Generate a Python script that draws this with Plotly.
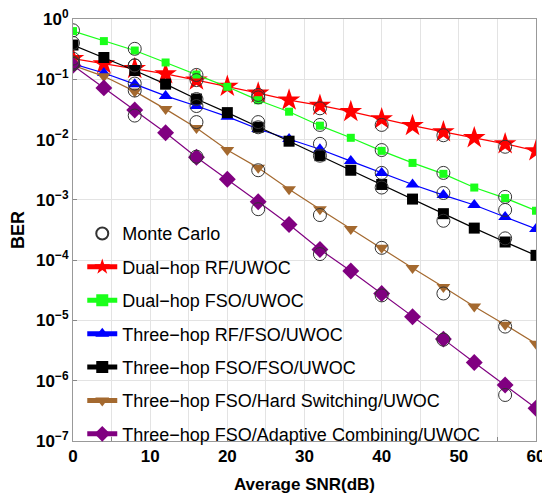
import plotly.graph_objects as go

# average SNR (dB) for analytic curves and Monte Carlo points
snr = [0, 4, 8, 12, 16, 20, 24, 28, 32, 36, 40, 44, 48, 52, 56, 60]
snr_mc = [0, 8, 16, 24, 32, 40, 48, 56]

ber_rf_uwoc = [0.22, 0.18, 0.15, 0.123, 0.097, 0.076, 0.059, 0.045, 0.037, 0.029,
               0.022, 0.017, 0.0134, 0.0107, 0.0085, 0.0065]
ber_fso_uwoc = [0.63, 0.43, 0.30, 0.19, 0.12, 0.075, 0.045, 0.029, 0.017, 0.0107,
                0.0065, 0.0041, 0.0027, 0.0016, 0.00107, 0.00066]
ber_rf_fso_uwoc = [0.18, 0.127, 0.083, 0.053, 0.036, 0.024, 0.015, 0.0102, 0.0069, 0.0044,
                   0.0028, 0.0018, 0.0012, 0.00082, 0.00052, 0.00033]
ber_fso_fso_uwoc = [0.37, 0.23, 0.14, 0.083, 0.047, 0.028, 0.016, 0.0094, 0.0054, 0.0031,
                    0.0018, 0.00103, 0.00059, 0.00034, 0.0002, 0.00012]
ber_hard = [0.17, 0.112, 0.063, 0.032, 0.0155, 0.0067, 0.0034, 0.0015, 0.0007, 0.00033,
            0.00016, 7.4e-5, 3.6e-5, 1.7e-5, 8.5e-6, 4.1e-6]
ber_adaptive = [0.17, 0.072, 0.031, 0.013, 0.0051, 0.0022, 0.00093, 0.00039, 0.00015, 6.6e-5,
                2.8e-5, 1.15e-5, 4.9e-6, 2.0e-6, 8.5e-7, 3.5e-7]

mc_rf_uwoc = [0.22, 0.17, 0.097, 0.055, 0.033, 0.0175, 0.0118, 0.0076]
mc_fso_uwoc = [0.65, 0.32, 0.118, 0.05, 0.0175, 0.0067, 0.0028, 0.00112]
mc_rf_fso_uwoc = [0.19, 0.085, 0.036, 0.0195, 0.0085, 0.0028, 0.0013, 0.00068]
mc_fso_fso_uwoc = [0.4, 0.17, 0.047, 0.016, 0.0054, 0.0016, 0.00045, 0.00023]
mc_hard = [0.18, 0.065, 0.0195, 0.0031, 0.00056, 0.00016, 2.8e-5, 7.9e-6]
mc_adaptive = [0.18, 0.025, 0.0052, 0.0007, 0.000126, 2.6e-5, 4.8e-6, 5.8e-7]

names = ["Dual\u2212hop RF/UWOC", "Dual\u2212hop FSO/UWOC", "Three\u2212hop RF/FSO/UWOC",
         "Three\u2212hop FSO/FSO/UWOC", "Three\u2212hop FSO/Hard Switching/UWOC",
         "Three\u2212hop FSO/Adaptive Combining/UWOC"]
curves = [ber_rf_uwoc, ber_fso_uwoc, ber_rf_fso_uwoc, ber_fso_fso_uwoc, ber_hard, ber_adaptive]
mc_curves = [mc_rf_uwoc, mc_fso_uwoc, mc_rf_fso_uwoc, mc_fso_fso_uwoc, mc_hard, mc_adaptive]

x_ticks = [0, 10, 20, 30, 40, 50, 60]
y_ticks = [1, 1e-1, 1e-2, 1e-3, 1e-4, 1e-5, 1e-6, 1e-7]
y_labels = ["10<sup>0</sup>", "10<sup>\u22121</sup>", "10<sup>\u22122</sup>", "10<sup>\u22123</sup>",
            "10<sup>\u22124</sup>", "10<sup>\u22125</sup>", "10<sup>\u22126</sup>", "10<sup>\u22127</sup>"]

colors = ["#ff0000", "#1aff1a", "#0000ff", "#000000", "#a4692f", "#800080"]
symbols = ["star", "square", "triangle-up", "square", "triangle-down", "diamond"]
sizes = [17, 8, 12, 11, 12, 13]

fig = go.Figure()

for i in range(len(names)):
    fig.add_trace(
        go.Scatter(
            x=snr,
            y=curves[i],
            name=names[i],
            mode="lines+markers",
            line=dict(color=colors[i], width=1.2),
            marker=dict(color=colors[i], symbol=symbols[i], size=sizes[i]),
            legendgroup="g%d" % i,
            legendrank=i + 2,
        )
    )

for i in range(len(mc_curves)):
    fig.add_trace(
        go.Scatter(
            x=snr_mc,
            y=mc_curves[i],
            name="Monte Carlo",
            mode="markers",
            marker=dict(symbol="circle-open", size=13, color="#333333", line=dict(width=1)),
            legendgroup="mc",
            showlegend=(i == 0),
            legendrank=1,
        )
    )

# page body adds 8px margin, so the figure is a bit smaller than the window
fig.update_layout(
    width=542,
    height=490,
    margin=dict(l=65, r=14, t=11, b=57),
    paper_bgcolor="white",
    plot_bgcolor="white",
    font=dict(family="Liberation Sans, Arial", color="black"),
    legend=dict(
        x=0.02,
        y=0.535,
        xanchor="left",
        yanchor="top",
        bgcolor="rgba(0,0,0,0)",
        font=dict(size=18),
        traceorder="grouped",
        tracegroupgap=7,
        itemsizing="constant",
    ),
    xaxis=dict(
        range=[0, 60],
        tickvals=x_ticks,
        ticktext=["<b>%d</b>" % v for v in x_ticks],
        showgrid=True,
        gridcolor="#e3e3e3",
        minor=dict(dtick=5, showgrid=True, gridcolor="#e3e3e3", ticks="inside", ticklen=4, tickcolor="#888"),
        ticks="inside",
        ticklen=4,
        tickcolor="#888",
        showline=True,
        linecolor="#999999",
        mirror=True,
        zeroline=False,
        automargin=False,
        ticklabeloverflow="allow",
        tickfont=dict(size=17),
        title=dict(text="<b>Average SNR(dB)</b>", font=dict(size=17), standoff=12),
    ),
    yaxis=dict(
        type="log",
        range=[-7, 0],
        tickvals=y_ticks,
        ticktext=["<b>%s</b>" % t for t in y_labels],
        showgrid=True,
        gridcolor="#e3e3e3",
        ticks="inside",
        ticklen=4,
        tickcolor="#888",
        showline=True,
        linecolor="#999999",
        mirror=True,
        zeroline=False,
        automargin=False,
        ticklabeloverflow="allow",
        tickfont=dict(size=17),
        title=dict(text="<b>BER</b>", font=dict(size=18), standoff=8),
    ),
)

fig.write_html("out.html")
